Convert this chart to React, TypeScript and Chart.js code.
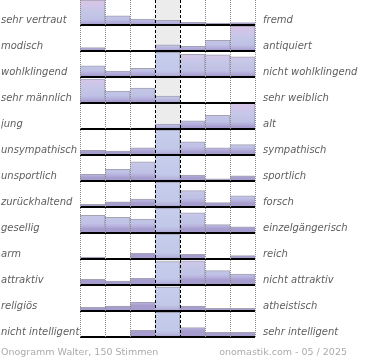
import React, { useEffect, useRef } from "react";
import { Chart, registerables } from "chart.js";

Chart.register(...registerables);

// Left / right poles of each scale (top to bottom)
const leftLabels = [
  "sehr vertraut",
  "modisch",
  "wohlklingend",
  "sehr männlich",
  "jung",
  "unsympathisch",
  "unsportlich",
  "zurückhaltend",
  "gesellig",
  "arm",
  "attraktiv",
  "religiös",
  "nicht intelligent",
];
const rightLabels = [
  "fremd",
  "antiquiert",
  "nicht wohlklingend",
  "sehr weiblich",
  "alt",
  "sympathisch",
  "sportlich",
  "forsch",
  "einzelgängerisch",
  "reich",
  "nicht attraktiv",
  "atheistisch",
  "sehr intelligent",
];

// Relative share per column (7 steps), percent of the row's maximum bar height
const vertraut = [96, 35, 23, 18, 10, 7, 9];
const modisch = [13, 0, 0, 24, 18, 41, 96];
const wohlklingend = [43, 23, 33, 95, 87, 85, 78];
const maennlich = [92, 46, 57, 27, 0, 0, 0];
const jung = [0, 0, 4, 19, 31, 53, 100];
const unsympathisch = [18, 15, 28, 96, 51, 28, 40];
const unsportlich = [26, 45, 74, 100, 23, 8, 20];
const zurueckhaltend = [10, 20, 30, 96, 63, 17, 43];
const gesellig = [68, 60, 54, 96, 78, 32, 24];
const arm = [7, 0, 22, 96, 18, 0, 13];
const attraktiv = [22, 15, 26, 90, 93, 55, 42];
const religioes = [14, 19, 33, 92, 19, 10, 10];
const intelligent = [0, 0, 26, 95, 36, 18, 18];

const rowValues = [
  vertraut,
  modisch,
  wohlklingend,
  maennlich,
  jung,
  unsympathisch,
  unsportlich,
  zurueckhaltend,
  gesellig,
  arm,
  attraktiv,
  religioes,
  intelligent,
];

const footerLeft = "Onogramm Walter, 150 Stimmen";
const footerRight = "onomastik.com - 05 / 2025";

const ROWS = rowValues.length;
const COLS = 7;
const MID = 3;
const baseOf = (i: number) => ROWS - 1 - i + 1 / 26;

export default function App() {
  const ref = useRef<HTMLCanvasElement | null>(null);

  useEffect(() => {
    if (!ref.current) return;
    const gradCache: Record<string, CanvasGradient> = {};

    const barColor = (ctx: any) => {
      const chart = ctx.chart;
      const ys = chart.scales?.y;
      if (!ys || ctx.type !== "data" || !ctx.raw) return "#c4c8e8";
      const row = ctx.datasetIndex;
      const col = Math.floor(ctx.raw.x);
      const mid = col === MID;
      const key = row + "-" + (mid ? "m" : "o");
      if (gradCache[key]) return gradCache[key];
      const b = ys.getPixelForValue(baseOf(row));
      if (!Number.isFinite(b)) return mid ? "#c4cbea" : "#c4c6e8";
      const t = b - 26;
      const g = chart.ctx.createLinearGradient(0, t, 0, b);
      if (mid) {
        g.addColorStop(0, "#c7cfed");
        g.addColorStop(0.75, "#c2c8e8");
        g.addColorStop(0.9, "#b7b5dd");
        g.addColorStop(1, "#a69ccd");
      } else {
        g.addColorStop(0, "#dcc3e5");
        g.addColorStop(0.25, "#d2c5e8");
        g.addColorStop(0.5, "#c5c7e8");
        g.addColorStop(0.8, "#bfc1e5");
        g.addColorStop(0.92, "#b3addb");
        g.addColorStop(1, "#a69ccd");
      }
      gradCache[key] = g;
      return g;
    };

    const datasets: any[] = rowValues.map((vals, i) => ({
      label: leftLabels[i],
      data: vals
        .map((p, c) => ({ x: c + 0.5, y: [baseOf(i), baseOf(i) + p / 100], p }))
        .filter((d) => d.p > 0),
      backgroundColor: barColor,
      borderColor: "#a3a3b3",
      borderWidth: { top: 1, right: 1, bottom: 0, left: 0 },
      borderSkipped: false,
      grouped: false,
      barPercentage: 1,
      categoryPercentage: 1,
      order: 0,
    }));

    datasets.push({
      label: "neutral",
      data: [{ x: MID + 0.5, y: [0, ROWS] }],
      backgroundColor: "#ececec",
      borderWidth: 0,
      grouped: false,
      barPercentage: 1,
      categoryPercentage: 1,
      order: 5,
    });

    const baseTicks = () => rowValues.map((_, i) => ({ value: baseOf(i) }));
    const labelFont = { family: "DejaVu Sans", size: 10, style: "italic" as const };

    const chart = new Chart(ref.current, {
      type: "bar",
      data: { datasets },
      options: {
        animation: false,
        responsive: false,
        devicePixelRatio: 1,
        layout: { padding: { left: 1, right: 0, top: 0, bottom: 22 } },
        plugins: { legend: { display: false }, tooltip: { enabled: false } },
        scales: {
          x: {
            type: "linear",
            min: 0,
            max: COLS,
            offset: false,
            position: "bottom",
            afterBuildTicks: (s: any) => {
              s.ticks = Array.from({ length: COLS + 1 }, (_, k) => ({ value: k }));
            },
            ticks: { display: false },
            border: {
              display: false,
              dash: (c: any) => (c.tick && (c.tick.value === MID || c.tick.value === MID + 1) ? [3, 2] : [1, 1]),
            },
            grid: {
              z: 2,
              offset: false,
              drawTicks: false,
              lineWidth: 1,
              color: (c: any) => (c.tick && (c.tick.value === MID || c.tick.value === MID + 1) ? "#000000" : "#8a8a8a"),
            },
            afterFit: (s: any) => {
              s.height = 0;
              s.paddingLeft = 0;
              s.paddingRight = 0;
            },
          },
          y: {
            type: "linear",
            position: "left",
            min: 0,
            max: ROWS,
            afterBuildTicks: (s: any) => {
              s.ticks = baseTicks();
            },
            ticks: {
              autoSkip: false,
              crossAlign: "far",
              padding: 0,
              labelOffset: -4.5,
              color: "#5e5e5e",
              font: labelFont,
              callback: (_v: any, idx: number) => leftLabels[idx],
            },
            border: { display: false },
            grid: { z: 1, drawTicks: false, color: "#000000", lineWidth: 2 },
            afterFit: (s: any) => {
              s.width = 79;
              s.paddingTop = 0;
              s.paddingBottom = 0;
            },
          },
          y2: {
            type: "linear",
            position: "right",
            min: 0,
            max: ROWS,
            afterBuildTicks: (s: any) => {
              s.ticks = baseTicks();
            },
            ticks: {
              autoSkip: false,
              padding: 8,
              labelOffset: -4.5,
              color: "#5e5e5e",
              font: labelFont,
              callback: (_v: any, idx: number) => rightLabels[idx],
            },
            border: { display: false },
            grid: { display: false, drawTicks: false },
            afterFit: (s: any) => {
              s.width = 115;
              s.paddingTop = 0;
              s.paddingBottom = 0;
            },
          },
        },
      } as any,
    });

    return () => chart.destroy();
  }, []);

  const footStyle: React.CSSProperties = {
    position: "absolute",
    top: 345,
    fontFamily: "DejaVu Sans",
    fontSize: "9.5px",
    lineHeight: "14px",
    color: "#ababab",
    whiteSpace: "nowrap",
  };

  return (
    <div style={{ position: "absolute", left: 0, top: 0, width: 370, height: 360 }}>
      <canvas
        ref={ref}
        width={370}
        height={360}
        style={{ position: "absolute", left: 0, top: 0, width: 370, height: 360 }}
      />
      <div style={{ ...footStyle, left: 1 }}>{footerLeft}</div>
      <div style={{ ...footStyle, right: 23 }}>{footerRight}</div>
    </div>
  );
}
